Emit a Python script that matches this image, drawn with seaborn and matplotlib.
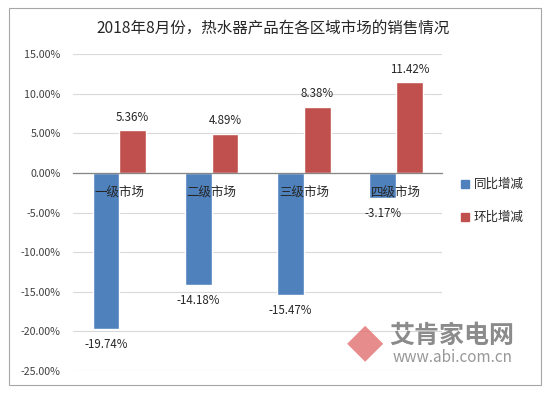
import pandas as pd
import matplotlib.pyplot as plt
import seaborn as sns
from matplotlib.patches import Rectangle

# data
markets = ['一级市场', '二级市场', '三级市场', '四级市场']
yoy = [-19.74, -14.18, -15.47, -3.17]   # 同比增减
mom = [5.36, 4.89, 8.38, 11.42]         # 环比增减
series_names = ['同比增减', '环比增减']
yticks = [15, 10, 5, 0, -5, -10, -15, -20, -25]

BLUE = '#4F81BD'
RED = '#C0504D'
FONT = ['Noto Sans CJK SC', 'DejaVu Sans']

sns.set_style('white')
plt.rcParams['font.family'] = FONT

df = pd.DataFrame({
    'market': markets * 2,
    'value': yoy + mom,
    'type': [series_names[0]] * 4 + [series_names[1]] * 4,
})

fig = plt.figure(figsize=(5.5, 3.95), dpi=100)
ax = fig.add_axes([0.133, 0.061, 0.671, 0.802])

sns.barplot(data=df, x='market', y='value', hue='type', hue_order=series_names,
            palette=[BLUE, RED], width=0.58, saturation=1, ax=ax)
ax.get_legend().remove()

ax.set_ylim(-25, 15)
ax.set_xlim(-0.5, 3.5)
ax.set_yticks(yticks)
ax.set_yticklabels([f'{t:.2f}%' for t in yticks], fontsize=7.7, color='#404040')
ax.tick_params(axis='y', length=0, pad=9)
ax.yaxis.grid(True, color='#D9D9D9', linewidth=0.8)
ax.set_axisbelow(True)

# x axis line sits at zero, ticks at group boundaries
for s in ['top', 'right', 'left']:
    ax.spines[s].set_visible(False)
ax.spines['bottom'].set_position(('data', 0))
ax.spines['bottom'].set_color('#868686')
ax.spines['bottom'].set_linewidth(0.9)
ax.set_xticks([-0.5, 0.5, 1.5, 2.5, 3.5])
ax.set_xticklabels([])
ax.tick_params(axis='x', direction='out', length=4, color='#868686', width=0.8)
ax.set_xlabel('')
ax.set_ylabel('')

# category labels just below the zero line
for i, m in enumerate(markets):
    ax.annotate(m, (i, 0), xytext=(0, -14), textcoords='offset points',
                ha='center', va='center', fontsize=9, color='#262626', zorder=5)

# value labels
for bars, vals in zip(ax.containers, [yoy, mom]):
    for p, v in zip(bars, vals):
        x = p.get_x() + p.get_width() / 2
        off = 9.5 if v > 0 else -11
        ax.annotate(f'{v:.2f}%', (x, v), xytext=(0, off), textcoords='offset points',
                    ha='center', va='center', fontsize=8.3, color='#262626')

# legend
handles = [Rectangle((0, 0), 1, 1, color=c) for c in [BLUE, RED]]
fig.legend(handles, series_names, loc='upper left', bbox_to_anchor=(0.818, 0.578),
           frameon=False, fontsize=9, handlelength=0.6, handleheight=0.6,
           handletextpad=0.4, labelspacing=1.6)

# title
fig.text(0.497, 0.93, '2018年8月份，热水器产品在各区域市场的销售情况',
         ha='center', va='center', fontsize=11.2, color='#262626')

# watermark
fig.text(0.822, 0.149, '艾肯家电网', ha='center', va='center', fontsize=18,
         color='#7F7F7F', fontweight='bold', alpha=0.9)
fig.text(0.822, 0.094, 'www.abi.com.cn', ha='center', va='center', fontsize=11,
         color='#8C8C8C', alpha=0.9)
fig.text(0.664, 0.132, '◆', ha='center', va='center', fontsize=34,
         color='#E06666', alpha=0.75, family=['DejaVu Sans'])

# outer frame
fig.patches.append(Rectangle((0.017, 0.025), 0.966, 0.955, transform=fig.transFigure,
                             fill=False, edgecolor='#A6A6A6', linewidth=0.8))

fig.savefig('out.png', dpi=100)
